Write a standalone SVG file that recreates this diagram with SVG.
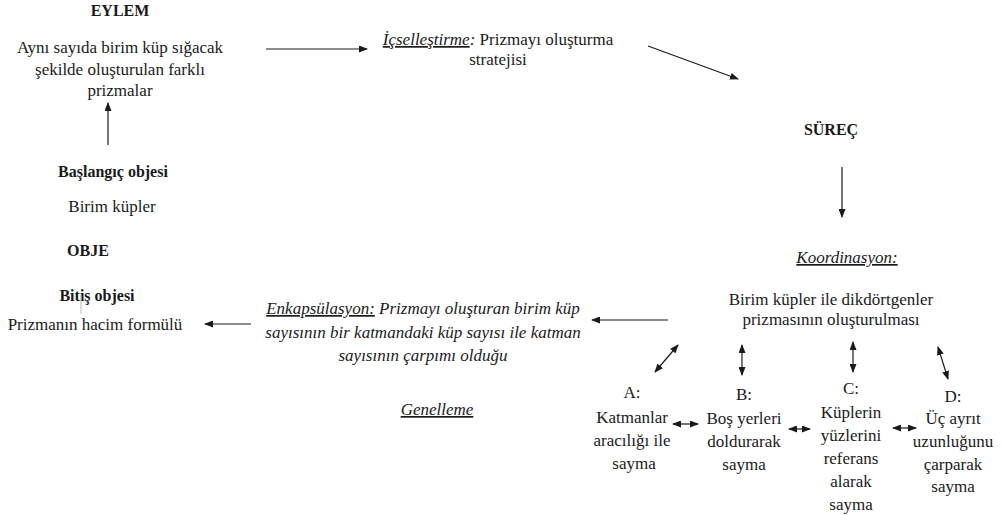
<svg xmlns="http://www.w3.org/2000/svg" width="1002" height="515" viewBox="0 0 1002 515" font-family="Liberation Serif, serif" font-size="17" text-anchor="middle">
<style>
.b{font-weight:bold;font-size:16px}
.i{font-style:italic}
.u{text-decoration:underline}
.ln{stroke:#1a1a1a;stroke-width:1.2;fill:none}
</style>
<defs>
<marker id="ah" markerWidth="9" markerHeight="7" refX="8" refY="3.5" orient="auto-start-reverse" markerUnits="userSpaceOnUse">
<path d="M0,0 L9,3.5 L0,7 Z" fill="#1a1a1a"/>
</marker>
</defs>
<rect width="1002" height="515" fill="#ffffff"/>

<g id="eylem" font-family="Liberation Serif" fill="#1a1a1a">
<text class="b" x="120" y="16">EYLEM</text>
<text x="120" y="53">Aynı sayıda birim küp sığacak</text>
<text x="120" y="75">şekilde oluşturulan farklı</text>
<text x="120" y="96">prizmalar</text>
</g>

<g id="baslangic" font-family="Liberation Serif" fill="#1a1a1a">
<text class="b" x="113" y="177">Başlangıç objesi</text>
<text x="112" y="212">Birim küpler</text>
</g>

<g id="obje" font-family="Liberation Serif" fill="#1a1a1a">
<text class="b" x="88" y="256">OBJE</text>
</g>

<g id="bitis" font-family="Liberation Serif" fill="#1a1a1a">
<text class="b" x="97" y="301">Bitiş objesi</text>
<line x1="81" y1="295" x2="81" y2="314" stroke="#bbbbbb" stroke-width="1"/>
<text x="95" y="330">Prizmanın hacim formülü</text>
</g>

<g id="icsellestirme" font-family="Liberation Serif" fill="#1a1a1a">
<text x="498" y="45"><tspan class="i u">İçselleştirme</tspan><tspan class="i">:</tspan> Prizmayı oluşturma</text>
<text x="498" y="65">stratejisi</text>
</g>

<g id="surec" font-family="Liberation Serif" fill="#1a1a1a">
<text class="b" x="831" y="135">SÜREÇ</text>
</g>

<g id="koordinasyon" font-family="Liberation Serif" fill="#1a1a1a">
<text class="i u" x="847" y="263">Koordinasyon:</text>
<text x="831" y="305">Birim küpler ile dikdörtgenler</text>
<text x="831" y="325">prizmasının oluşturulması</text>
</g>

<g id="enkapsulasyon" font-family="Liberation Serif" fill="#1a1a1a">
<text class="i" x="423" y="314"><tspan class="u">Enkapsülasyon:</tspan> Prizmayı oluşturan birim küp</text>
<text class="i" x="423" y="338">sayısının bir katmandaki küp sayısı ile katman</text>
<text class="i" x="423" y="361">sayısının çarpımı olduğu</text>
</g>

<g id="genelleme" font-family="Liberation Serif" fill="#1a1a1a">
<text class="i u" x="437" y="415">Genelleme</text>
</g>

<g id="nodeA" font-family="Liberation Serif" fill="#1a1a1a">
<text x="632" y="398">A:</text>
<text x="632" y="423">Katmanlar</text>
<text x="632" y="446">aracılığı ile</text>
<text x="634" y="469">sayma</text>
</g>

<g id="nodeB" font-family="Liberation Serif" fill="#1a1a1a">
<text x="744" y="400">B:</text>
<text x="744" y="424">Boş yerleri</text>
<text x="744" y="447">doldurarak</text>
<text x="744" y="470">sayma</text>
</g>

<g id="nodeC" font-family="Liberation Serif" fill="#1a1a1a">
<text x="851" y="394">C:</text>
<text x="851" y="418">Küplerin</text>
<text x="851" y="441">yüzlerini</text>
<text x="851" y="464">referans</text>
<text x="851" y="487">alarak</text>
<text x="851" y="510">sayma</text>
</g>

<g id="nodeD" font-family="Liberation Serif" fill="#1a1a1a">
<text x="953" y="402">D:</text>
<text x="953" y="424">Üç ayrıt</text>
<text x="953" y="447">uzunluğunu</text>
<text x="953" y="470">çarparak</text>
<text x="953" y="492">sayma</text>
</g>

<g id="connectors" class="ln">
<line x1="266" y1="49" x2="367" y2="49" marker-end="url(#ah)"/>
<line x1="648" y1="46" x2="738" y2="79" marker-end="url(#ah)"/>
<line x1="842" y1="167" x2="842" y2="217" marker-end="url(#ah)"/>
<line x1="108" y1="145" x2="108" y2="103" marker-end="url(#ah)"/>
<line x1="668" y1="320" x2="592" y2="320" marker-end="url(#ah)"/>
<line x1="251" y1="324" x2="205" y2="324" marker-end="url(#ah)"/>
<line x1="655" y1="372" x2="678" y2="345" marker-start="url(#ah)" marker-end="url(#ah)"/>
<line x1="742" y1="345" x2="742" y2="375" marker-start="url(#ah)" marker-end="url(#ah)"/>
<line x1="853" y1="342" x2="853" y2="372" marker-start="url(#ah)" marker-end="url(#ah)"/>
<line x1="938" y1="347" x2="948" y2="379" marker-start="url(#ah)" marker-end="url(#ah)"/>
<line x1="673" y1="424" x2="698" y2="424" marker-start="url(#ah)" marker-end="url(#ah)"/>
<line x1="789" y1="429" x2="810" y2="429" marker-start="url(#ah)" marker-end="url(#ah)"/>
<line x1="893" y1="428" x2="916" y2="428" marker-start="url(#ah)" marker-end="url(#ah)"/>
</g>
</svg>
